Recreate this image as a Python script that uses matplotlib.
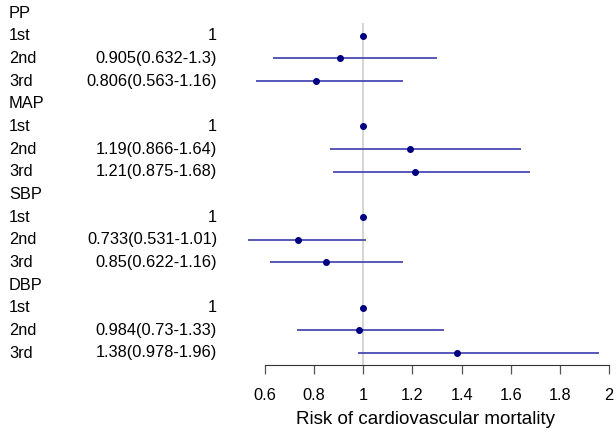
import numpy as np
import matplotlib.pyplot as plt
import matplotlib.transforms as mtransforms

plt.rcParams['font.family'] = ['Liberation Sans', 'DejaVu Sans']

groups = ["PP", "MAP", "SBP", "DBP"]
levels = ["1st", "2nd", "3rd"]
hr = [[1, 0.905, 0.806],
      [1, 1.19, 1.21],
      [1, 0.733, 0.85],
      [1, 0.984, 1.38]]
lo = [[None, 0.632, 0.563],
      [None, 0.866, 0.875],
      [None, 0.531, 0.622],
      [None, 0.73, 0.978]]
hi = [[None, 1.3, 1.16],
      [None, 1.64, 1.68],
      [None, 1.01, 1.16],
      [None, 1.33, 1.96]]
xticks = [0.6, 0.8, 1, 1.2, 1.4, 1.6, 1.8, 2]

FS = 11.8
W, H = 616, 438
fig = plt.figure(figsize=(W / 100, H / 100), dpi=100)
# axes placed in pixel units: left 240, right 612, top 5, bottom 365
ax = fig.add_axes([240 / W, (H - 365) / H, 372 / W, 360 / H])

px_per_unit = (609 - 265) / 1.4
ax.set_xlim(0.6 - 25 / px_per_unit, 2 + 3 / px_per_unit)
nrows = len(groups) * (len(levels) + 1)
row_px = (353 - 13) / (nrows - 1)
ax.set_ylim(15 + 12 / row_px, -8 / row_px)

ax.plot([1, 1], [nrows, 0.5], color="#d4d4d4", lw=1.4, zorder=1)

lab_tr = mtransforms.blended_transform_factory(fig.transFigure, ax.transData)
row = 0
for g, name in enumerate(groups):
    ax.text(9 / W, row, name, transform=lab_tr, ha="left", va="center", fontsize=FS)
    row += 1
    for k, lev in enumerate(levels):
        ax.text(9 / W, row, lev, transform=lab_tr, ha="left", va="center", fontsize=FS)
        if lo[g][k] is None:
            txt = f"{hr[g][k]:g}"
        else:
            txt = f"{hr[g][k]:g}({lo[g][k]:g}-{hi[g][k]:g})"
            ax.plot([lo[g][k], hi[g][k]], [row, row], color="#4a4ab4", lw=1.3,
                    solid_capstyle="butt", zorder=2)
        ax.text(217 / W, row, txt, transform=lab_tr, ha="right", va="center", fontsize=FS)
        ax.plot(hr[g][k], row, "o", color="#000080", ms=4, zorder=3)
        row += 1

for s in ["top", "right", "left"]:
    ax.spines[s].set_visible(False)
ax.spines["bottom"].set_bounds(0.6, 2)
ax.spines["bottom"].set_color("#333333")
ax.set_yticks([])
ax.set_xticks(xticks)
ax.set_xticklabels([f"{t:g}" for t in xticks])
ax.tick_params(axis="x", length=6.5, width=0.9, color="#555555", pad=10, labelsize=FS)
ax.set_xlabel("Risk of cardiovascular mortality", fontsize=13.5, labelpad=5.5)
ax.patch.set_visible(False)

fig.savefig("out.png", dpi=100)
